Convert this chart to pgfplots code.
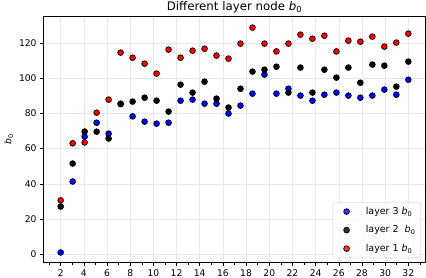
\documentclass[border=0pt]{standalone}
\usepackage{fontspec}
\setmainfont{DejaVu Sans}
\usepackage{pgfplots}
\pgfplotsset{compat=1.18}
\usepackage{pgfplotstable}
\newcommand{\bz}{\textit{b}\textsubscript{0}}

\pgfplotstableread{
x l3 l2 l1
2 1.0 27.1 30.6
3.0345 41.3 51.5 63.0
4.0690 66.8 69.7 63.5
5.1034 74.7 69.6 80.4
6.1379 68.5 65.7 87.8
7.1724 85.3 85.5 114.5
8.2069 78.3 86.7 111.6
9.2414 75.3 88.9 108.2
10.2759 74.2 87.2 102.6
11.3103 74.7 81.0 116.2
12.3448 87.2 96.3 111.6
13.3793 87.8 91.8 115.6
14.4138 85.5 98.0 116.7
15.4483 85.5 88.4 112.8
16.4828 79.9 83.3 111.1
17.5172 84.4 94.0 119.6
18.5517 91.2 103.7 128.7
19.5862 102.0 104.8 119.6
20.6207 91.2 106.5 115.2
21.6552 94.0 91.8 119.6
22.6897 90.1 106.0 124.7
23.7241 87.2 91.8 122.4
24.7586 90.6 104.8 124.1
25.7931 91.8 100.3 115.2
26.8276 90.1 106.0 121.3
27.8621 88.9 97.4 120.7
28.8966 90.1 107.7 123.6
29.9310 93.5 107.1 117.9
30.9655 90.6 95.2 120.2
32 99.1 109.4 125.3
}\data

\begin{document}
\begin{tikzpicture}
\begin{axis}[
  scale only axis, width=382.4pt, height=246.7pt,
  xmin=0.5, xmax=33.5, ymin=-4.8, ymax=135.3,
  xtick={2,4,...,32}, minor xtick={1,3,...,33},
  ytick={0,20,...,120},
  tick align=outside, tick pos=left,
  major tick length=3.2pt, minor tick length=1.9pt,
  every tick/.style={black, line width=0.55pt},
  axis line style={line width=0.75pt},
  grid=major, major grid style={black!9, line width=0.5pt},
  tick label style={font=\fontsize{9.2}{10}\selectfont},
  /pgf/number format/assume math mode=true,
  title={Different layer node \bz},
  every axis title/.style={font=\fontsize{11.8}{12}\selectfont, at={(0.5,1)}, anchor=base, yshift=5.6pt},
  ylabel={\bz},
  every axis y label/.style={font=\fontsize{9.2}{10}\selectfont, at={(axis description cs:0,0.5)}, rotate=90, anchor=center, yshift=34.5pt},
  legend style={at={(1,0)}, anchor=south east, xshift=-5pt, yshift=5pt, draw=black!20, rounded corners=2pt, fill=white, fill opacity=0.8, text opacity=1, font=\fontsize{9.5}{10}\selectfont, row sep=5.8pt, column sep=0pt, inner xsep=3pt, inner ysep=2.5pt},
  legend cell align=left,
  legend image code/.code={\path (-10.6pt,0pt) (17pt,0pt); \draw[#1] plot coordinates {(0pt,0pt)};},
]
\addplot[only marks, mark=*, mark size=2.9pt, mark options={draw=black, fill=blue, line width=0.7pt}] table[x=x,y=l3]{\data};
\addlegendentry{layer 3 \bz}
\addplot[only marks, mark=*, mark size=2.9pt, mark options={draw=black, fill=black, line width=0.7pt}] table[x=x,y=l2]{\data};
\addlegendentry{layer 2\ \ \bz}
\addplot[only marks, mark=*, mark size=2.9pt, mark options={draw=black, fill=red, line width=0.7pt}] table[x=x,y=l1]{\data};
\addlegendentry{layer 1 \bz}
\end{axis}
\pgfresetboundingbox
\path[use as bounding box] ([shift={(-43.3pt,-15.3pt)}]current axis.south west) rectangle ([shift={(0.3pt,16pt)}]current axis.north east);
\end{tikzpicture}
\end{document}
